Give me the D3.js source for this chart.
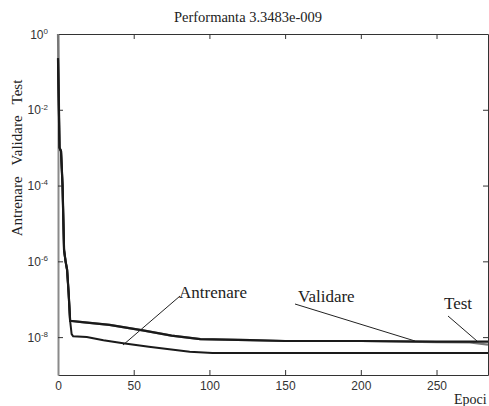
<!DOCTYPE html>
<html>
<head>
<meta charset="utf-8">
<script src="https://cdn.jsdelivr.net/npm/d3@7"></script>
<style>
  body { margin: 0; background: #fff; }
  svg { display: block; }
  .serif { font-family: "Liberation Serif", "DejaVu Serif", serif; fill: #222; }
  .tick text { font-family: "Liberation Sans", Arial, sans-serif; font-size: 12px; fill: #333; }
</style>
</head>
<body>
<div id="chart"></div>
<script>
var svgWidth = 489;
var svgHeight = 406;

var margin = { top: 34, left: 58, right: 1, bottom: 31 };
var width = svgWidth - margin.left - margin.right;
var height = svgHeight - margin.top - margin.bottom;

// Data (epoch, performance)
var trainEpochs = [0, 1, 2, 3, 4, 5, 6, 7, 8, 9, 10, 19, 30, 43, 60, 87, 102, 150, 200, 250, 284];
var trainValues = [2.3e-1, 1.0e-3, 8.0e-4, 1.0e-4, 2.0e-6, 1.0e-6, 6.0e-7, 1.5e-7, 2.7e-8, 1.2e-8, 1.05e-8, 1.0e-8, 8.3e-9, 6.9e-9, 5.6e-9, 4.1e-9, 3.8e-9, 3.8e-9, 3.8e-9, 3.8e-9, 3.8e-9];

var valEpochs = [0, 1, 2, 3, 4, 5, 6, 7, 8, 16, 34, 56, 75, 94, 127, 150, 200, 250, 284];
var valValues = [2.3e-1, 1.0e-3, 8.0e-4, 1.0e-4, 2.0e-6, 1.0e-6, 6.0e-7, 1.5e-7, 2.7e-8, 2.5e-8, 2.1e-8, 1.5e-8, 1.1e-8, 8.9e-9, 8.3e-9, 7.9e-9, 7.9e-9, 7.6e-9, 7.6e-9];

var testEpochs = [0, 1, 2, 3, 4, 5, 6, 7, 8, 16, 34, 56, 75, 94, 127, 150, 200, 250, 272, 284];
var testValues = [1.0e0, 1.0e-3, 8.0e-4, 1.0e-4, 2.0e-6, 1.0e-6, 6.0e-7, 1.5e-7, 2.7e-8, 2.5e-8, 2.1e-8, 1.5e-8, 1.1e-8, 8.9e-9, 8.3e-9, 7.9e-9, 7.9e-9, 7.4e-9, 7.2e-9, 6.3e-9];

var xTicks = [0, 50, 100, 150, 200, 250];
var yTicks = [1, 1e-2, 1e-4, 1e-6, 1e-8];
var yTickExp = ["0", "-2", "-4", "-6", "-8"];

var svg = d3.select("#chart")
    .append("svg")
    .attr("width", svgWidth)
    .attr("height", svgHeight);

var chartGroup = svg.append("g")
    .attr("transform", `translate(${margin.left}, ${margin.top})`);

var xScale = d3.scaleLinear().domain([0, 284]).range([0, width]);
var yScale = d3.scaleLog().domain([1e-9, 1]).range([height, 0]);

function zip(xs, ys) {
    return xs.map((e, i) => [e, ys[i]]);
}

var line = d3.line()
    .x(d => xScale(d[0]))
    .y(d => yScale(d[1]));

// axes, ticks pointing inwards like matlab
chartGroup.append("g")
    .attr("transform", `translate(0, ${height})`)
    .call(d3.axisBottom(xScale).tickValues(xTicks).tickSizeInner(-5).tickSizeOuter(0).tickPadding(6));

chartGroup.append("g")
    .call(d3.axisTop(xScale).tickValues(xTicks).tickSizeInner(-5).tickSizeOuter(0).tickFormat(""));

chartGroup.append("g")
    .attr("transform", `translate(${width}, 0)`)
    .call(d3.axisRight(yScale).tickValues(yTicks).tickSizeInner(-5).tickSizeOuter(0).tickFormat(""));

var leftAxis = chartGroup.append("g")
    .call(d3.axisLeft(yScale).tickValues(yTicks).tickSizeInner(-5).tickSizeOuter(0).tickFormat("").tickPadding(10));

// superscript labels on y axis
leftAxis.selectAll(".tick text").each(function(d, i) {
    var t = d3.select(this).attr("dy", "0.35em");
    t.append("tspan").text("10");
    t.append("tspan").attr("dy", "-0.6em").style("font-size", "8px").text(yTickExp[i]);
});

chartGroup.selectAll(".domain").attr("stroke", "#333");
leftAxis.select(".domain").attr("stroke", "#8a8a8a").attr("stroke-width", 2);
chartGroup.selectAll(".tick line").attr("stroke", "#333");

// series
chartGroup.append("path")
    .datum(zip(testEpochs, testValues))
    .attr("fill", "none")
    .attr("stroke", "#777")
    .attr("stroke-width", 2.2)
    .attr("d", line);

chartGroup.append("path")
    .datum(zip(valEpochs, valValues))
    .attr("fill", "none")
    .attr("stroke", "#1a1a1a")
    .attr("stroke-width", 2.2)
    .attr("d", line);

chartGroup.append("path")
    .datum(zip(trainEpochs, trainValues))
    .attr("fill", "none")
    .attr("stroke", "#1a1a1a")
    .attr("stroke-width", 2)
    .attr("d", line);

// annotations
var notes = [
    { text: "Antrenare", x: 179, y: 298, x1: 180, y1: 296, x2: 123, y2: 345 },
    { text: "Validare", x: 298, y: 302, x1: 295, y1: 304, x2: 415, y2: 341 },
    { text: "Test", x: 444, y: 309, x1: 448, y1: 316, x2: 477, y2: 341 }
];

notes.forEach(function(n) {
    svg.append("line")
        .attr("x1", n.x1).attr("y1", n.y1)
        .attr("x2", n.x2).attr("y2", n.y2)
        .attr("stroke", "#222")
        .attr("stroke-width", 1);
    svg.append("text")
        .attr("class", "serif")
        .attr("x", n.x)
        .attr("y", n.y)
        .style("font-size", "17px")
        .text(n.text);
});

// title and axis labels
svg.append("text")
    .attr("class", "serif")
    .attr("x", 248)
    .attr("y", 22)
    .attr("text-anchor", "middle")
    .style("font-size", "14.5px")
    .text("Performanta 3.3483e-009");

svg.append("text")
    .attr("class", "serif")
    .attr("transform", "translate(22, 158) rotate(-90)")
    .attr("text-anchor", "middle")
    .style("font-size", "15px")
    .style("white-space", "pre")
    .text("Antrenare   Validare   Test");

svg.append("text")
    .attr("class", "serif")
    .attr("x", 454)
    .attr("y", 404)
    .style("font-size", "14px")
    .text("Epoci");
</script>
</body>
</html>
